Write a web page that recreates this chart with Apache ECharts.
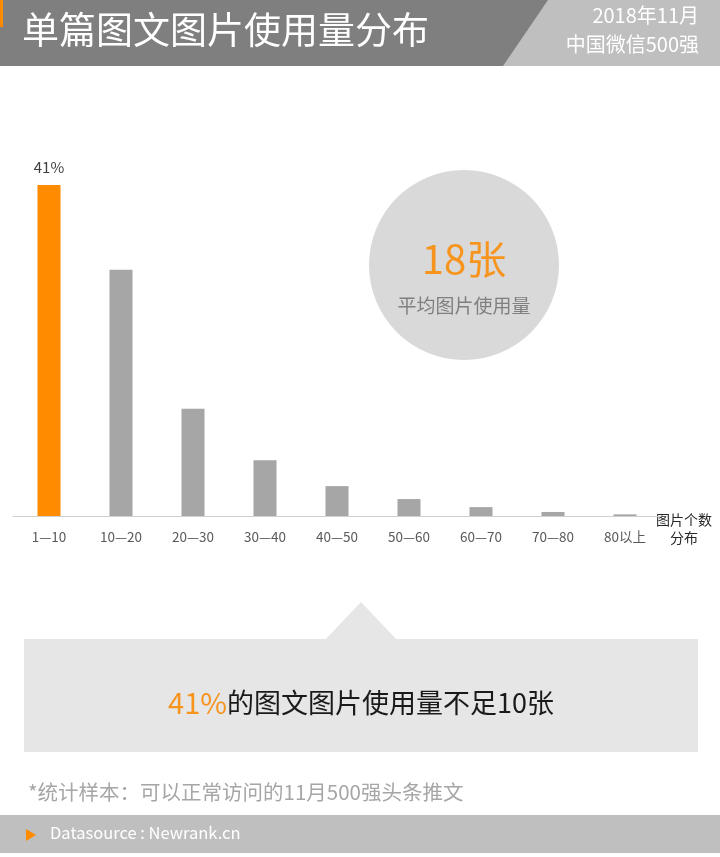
<!DOCTYPE html>
<html>
<head>
<meta charset="utf-8">
<script src="https://cdn.jsdelivr.net/npm/echarts@6/dist/echarts.min.js"></script>
<style>
  html, body { margin: 0; padding: 0; background: #fff; }
  #chart { width: 720px; height: 857px; }
</style>
</head>
<body>
<div id="chart"></div>
<script>
const categories = ['1—10', '10—20', '20—30', '30—40', '40—50', '50—60', '60—70', '70—80', '80以上'];
const shares = [41, 30.5, 13.3, 6.9, 3.7, 2.1, 1.1, 0.5, 0.2];
const highlightIndex = 0;

const FONT = '"Noto Sans CJK SC", "Noto Sans", sans-serif';
const ORANGE = '#ff8c00';

const chart = echarts.init(document.getElementById('chart'));

chart.setOption({
    backgroundColor: '#ffffff',
    textStyle: { fontFamily: FONT },
    grid: {
        left: 13,
        right: 59,
        top: 185,
        bottom: 857 - 516,
        containLabel: false
    },
    xAxis: {
        type: 'category',
        data: categories,
        axisLine: { lineStyle: { color: '#d0d0d0', width: 1 } },
        axisTick: { show: false },
        axisLabel: {
            color: '#595959',
            fontSize: 13.5,
            margin: 14,
            fontFamily: FONT
        }
    },
    yAxis: {
        type: 'value',
        min: 0,
        max: 41,
        show: false
    },
    series: [{
        type: 'bar',
        barWidth: '32%',
        data: shares.map((v, i) => ({
            value: v,
            itemStyle: { color: i === highlightIndex ? ORANGE : '#a6a6a6' },
            label: {
                show: i === highlightIndex,
                position: 'top',
                distance: 10,
                formatter: '{c}%',
                color: '#404040',
                fontSize: 15
            }
        })),
        animation: false
    }],
    graphic: [
        // header band
        { type: 'rect', shape: { x: 0, y: 0, width: 720, height: 66 }, style: { fill: '#7f7f7f' } },
        { type: 'polygon', shape: { points: [[548, 0], [720, 0], [720, 66], [503, 66]] }, style: { fill: '#bfbfbf' } },
        { type: 'rect', shape: { x: 0, y: 0, width: 3, height: 27 }, style: { fill: ORANGE } },
        {
            type: 'text', left: 22, top: 11,
            style: { text: '单篇图文图片使用量分布', fill: '#ffffff', font: '37px ' + FONT }
        },
        {
            type: 'text', right: 21, top: 5,
            style: { text: '2018年11月', fill: '#ffffff', font: '20px ' + FONT, textAlign: 'right' }
        },
        {
            type: 'text', right: 21, top: 34,
            style: { text: '中国微信500强', fill: '#ffffff', font: '20px ' + FONT, textAlign: 'right' }
        },
        // x axis name
        {
            type: 'text', x: 684, y: 520,
            style: { text: '图片个数', fill: '#262626', font: '14px ' + FONT, textAlign: 'center', textVerticalAlign: 'middle' }
        },
        {
            type: 'text', x: 684, y: 538,
            style: { text: '分布', fill: '#262626', font: '14px ' + FONT, textAlign: 'center', textVerticalAlign: 'middle' }
        },
        // average circle
        { type: 'circle', shape: { cx: 464, cy: 265, r: 95 }, style: { fill: '#d9d9d9' } },
        {
            type: 'text', x: 464, y: 259,
            style: { text: '18张', fill: '#f7941d', font: '40px ' + FONT, textAlign: 'center', textVerticalAlign: 'middle' }
        },
        {
            type: 'text', x: 464, y: 306,
            style: { text: '平均图片使用量', fill: '#7f7f7f', font: '19px ' + FONT, textAlign: 'center', textVerticalAlign: 'middle' }
        },
        // callout
        { type: 'polygon', shape: { points: [[361, 602], [397, 640], [325, 640]] }, style: { fill: '#e6e6e6' } },
        { type: 'rect', shape: { x: 24, y: 639, width: 674, height: 113 }, style: { fill: '#e6e6e6' } },
        {
            type: 'text', x: 361, y: 703,
            style: {
                text: '{o|41%}{b|的图文图片使用量不足10张}',
                textAlign: 'center',
                textVerticalAlign: 'middle',
                rich: {
                    o: { fill: '#f7941d', fontSize: 29, fontFamily: FONT },
                    b: { fill: '#1a1a1a', fontSize: 27, fontFamily: FONT }
                }
            }
        },
        // footnote
        {
            type: 'text', left: 28, top: 782,
            style: { text: '*统计样本：可以正常访问的11月500强头条推文', fill: '#a6a6a6', font: '20.5px ' + FONT }
        },
        // footer
        { type: 'rect', shape: { x: 0, y: 815, width: 720, height: 38 }, style: { fill: '#bfbfbf' } },
        { type: 'polygon', shape: { points: [[26, 829], [36, 835], [26, 841]] }, style: { fill: ORANGE } },
        {
            type: 'text', left: 50, top: 824,
            style: { text: 'Datasource : Newrank.cn', fill: '#ffffff', font: '16.5px ' + FONT }
        }
    ]
});
</script>
</body>
</html>
